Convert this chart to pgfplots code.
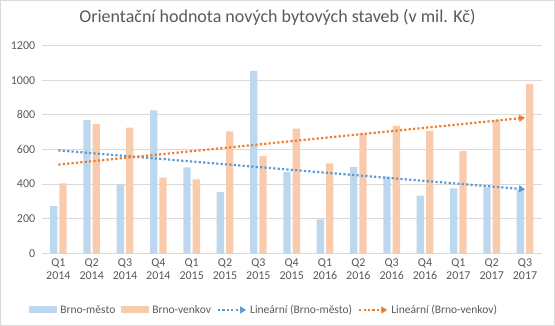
\documentclass[border=0pt]{standalone}
\usepackage{pgfplots}
\pgfplotsset{compat=1.18}
\usepackage{pgfplotstable}
\usepackage{fontspec}
\setmainfont{Carlito}
\usetikzlibrary{arrows.meta}
\definecolor{barblue}{HTML}{BDD7EE}
\definecolor{barorange}{HTML}{F8CBAD}
\definecolor{trendblue}{HTML}{5B9BD5}
\definecolor{trendorange}{HTML}{ED7D31}
\definecolor{txtgray}{HTML}{595959}
\definecolor{gridgray}{HTML}{D9D9D9}

\pgfplotstableread{
x a b
0 273 404
1 770 747
2 399 726
3 826 437
4 497 428
5 354 705
6 1054 562
7 470 720
8 196 520
9 499 693
10 443 736
11 333 707
12 376 591
13 381 770
14 366 978
}\data

\begin{document}
\begin{tikzpicture}
\path[use as bounding box] (-41.7bp,-72.7bp) rectangle (513.3bp,253.3bp);
\draw[gridgray, line width=1bp] (-41.2bp,-72.2bp) rectangle (512.8bp,252.8bp);
\begin{axis}[
  scale only axis,
  width=500bp, height=207.6bp,
  xmin=-0.5, xmax=14.5,
  ymin=0, ymax=1200,
  ytick={0,200,...,1200},
  xtick={0,...,14},
  xticklabels={{Q1\\2014},{Q2\\2014},{Q3\\2014},{Q4\\2014},{Q1\\2015},{Q2\\2015},{Q3\\2015},{Q4\\2015},{Q1\\2016},{Q2\\2016},{Q3\\2016},{Q4\\2016},{Q1\\2017},{Q2\\2017},{Q3\\2017}},
  xticklabel style={align=center, text=txtgray, font=\fontsize{12bp}{13bp}\selectfont, yshift=-2bp},
  yticklabel style={text=txtgray, font=\fontsize{12bp}{13bp}\selectfont, xshift=-3bp},
  /pgf/number format/assume math mode=true,
  /pgf/number format/1000 sep={},
  axis x line*=bottom,
  axis y line*=left,
  x axis line style={draw=gridgray, line width=0.8bp},
  y axis line style={draw=none},
  ymajorgrids, grid style={gridgray, line width=0.8bp},
  major tick length=0pt,
  tick style={draw=none},
  ybar=2bp, bar width=7.3bp,
  title={Orientační hodnota nových bytových staveb (v mil. Kč)},
  title style={at={(axis description cs:0.4716,1.085)}, anchor=base, text=txtgray, font=\fontsize{18bp}{20bp}\selectfont},
  legend style={at={(axis description cs:0.445,-0.273)}, anchor=center, draw=none, fill=none,
    legend columns=-1, text=txtgray, font=\fontsize{11.5bp}{13bp}\selectfont,
    /tikz/every odd column/.append style={column sep=1bp},
    /tikz/every even column/.append style={column sep=4bp}},
  clip=false,
]
\addplot[fill=barblue, draw=none, legend image code/.code={\fill[barblue] (0bp,-3.5bp) rectangle (28bp,3.5bp);}] table[x=x,y=a] {\data};
\addlegendentry{Brno-město}
\addplot[fill=barorange, draw=none, legend image code/.code={\fill[barorange] (0bp,-3.5bp) rectangle (28bp,3.5bp);}] table[x=x,y=b] {\data};
\addlegendentry{Brno-venkov}
\addplot[sharp plot, trendblue, line width=2.2bp, dash pattern=on 2.2bp off 2.2bp, -{Triangle[length=6bp,width=7bp]},
  legend image code/.code={\draw[trendblue, line width=2.2bp, dash pattern=on 2.2bp off 2.2bp, -{Triangle[length=6bp,width=7bp]}] (0bp,0bp) -- (28bp,0bp);}]
  table[x=x, y={create col/linear regression={y=a}}] {\data};
\addlegendentry{Lineární (Brno-město)}
\addplot[sharp plot, trendorange, line width=2.2bp, dash pattern=on 2.2bp off 2.2bp, -{Triangle[length=6bp,width=7bp]},
  legend image code/.code={\draw[trendorange, line width=2.2bp, dash pattern=on 2.2bp off 2.2bp, -{Triangle[length=6bp,width=7bp]}] (0bp,0bp) -- (28bp,0bp);}]
  table[x=x, y={create col/linear regression={y=b}}] {\data};
\addlegendentry{Lineární (Brno-venkov)}
\end{axis}
\end{tikzpicture}
\end{document}
